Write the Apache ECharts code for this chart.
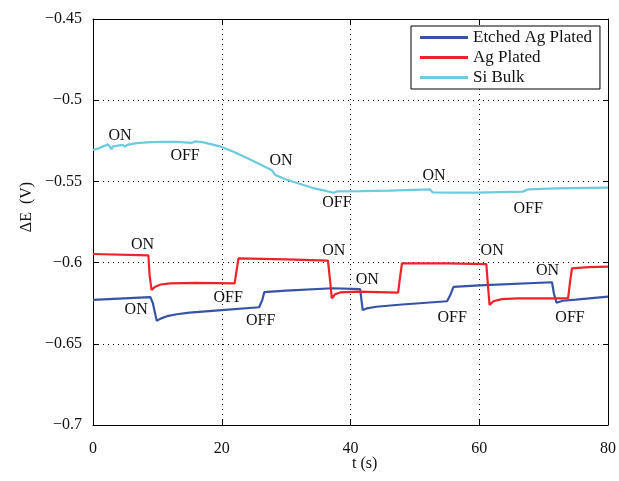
<!DOCTYPE html>
<html>
<head>
<meta charset="utf-8">
<script src="https://cdn.jsdelivr.net/npm/echarts@6/dist/echarts.min.js"></script>
<style>
  html, body { margin: 0; padding: 0; background: #fff; }
  #chart { width: 619px; height: 481px; }
</style>
</head>
<body>
<div id="chart"></div>
<script>
// data: [t (s), dE (V)]
const etched = [
  [0, -0.6230], [4, -0.6222], [8.9, -0.6212], [9.3, -0.6250], [9.9, -0.6358],
  [10.5, -0.6345], [11.5, -0.6330], [13, -0.6318], [15, -0.6308], [20, -0.6293],
  [25.8, -0.6275], [26.3, -0.6230], [26.6, -0.6182], [30, -0.6172], [37.2, -0.6158],
  [41.5, -0.6163], [41.7, -0.6230], [41.9, -0.6292], [42.5, -0.6282], [44, -0.6272],
  [48, -0.6258], [55.0, -0.6238], [55.5, -0.6200], [56.0, -0.6150], [60, -0.6140],
  [71.3, -0.6121], [71.6, -0.6190], [72.0, -0.6247], [73, -0.6235], [75, -0.6228],
  [80, -0.6210]
]
const agPlated = [
  [0, -0.5947], [8.6, -0.5955], [8.8, -0.6080], [9.1, -0.6169], [9.6, -0.6150],
  [10.5, -0.6135], [12, -0.6128], [16, -0.6125], [22.0, -0.6128], [22.3, -0.6050],
  [22.6, -0.5974], [30, -0.5980], [36.5, -0.5988], [36.8, -0.6100], [37.1, -0.6220],
  [37.6, -0.6195], [38.5, -0.6183], [41, -0.6179], [47.4, -0.6185], [47.7, -0.6090],
  [48.0, -0.6004], [55, -0.6005], [61.1, -0.6009], [61.35, -0.6140], [61.6, -0.6261],
  [62.2, -0.6238], [63.5, -0.6225], [66, -0.6220], [73.8, -0.6220], [74.1, -0.6120],
  [74.4, -0.6035], [77, -0.6028], [80, -0.6025]
]
const siBulk = [
  [0, -0.5307], [1, -0.5295], [2.3, -0.5272], [2.9, -0.5302], [3.1, -0.5284],
  [4.6, -0.5275], [4.97, -0.5287], [5.3, -0.5275], [6.8, -0.5264], [9, -0.5258],
  [11, -0.5256], [13, -0.5257], [15.4, -0.5263], [15.8, -0.5254], [17, -0.5258],
  [19.7, -0.5284], [22, -0.5320], [24, -0.5358], [26, -0.5396], [27.8, -0.5432],
  [28.3, -0.5460], [30, -0.5488], [31.7, -0.5510], [34.2, -0.5541], [36, -0.5557],
  [37.3, -0.5570], [37.9, -0.5562], [41.5, -0.5560], [46, -0.5557], [52.3, -0.5549],
  [52.8, -0.5568], [56, -0.5569], [59.6, -0.5569], [66.8, -0.5563], [67.6, -0.5549],
  [72, -0.5543], [80, -0.5538]
]
// ON / OFF annotations: [text, t, dE]
const notes = [
  ['ON', 4.2, -0.5219], ['OFF', 14.3, -0.5344], ['ON', 29.2, -0.5372],
  ['OFF', 37.9, -0.5631], ['ON', 52.97, -0.5467], ['OFF', 67.6, -0.5666],
  ['ON', 7.7, -0.5892], ['ON', 6.7, -0.6288], ['OFF', 21.0, -0.6214],
  ['OFF', 26.05, -0.6358], ['ON', 37.4, -0.5927], ['ON', 42.6, -0.6103],
  ['OFF', 55.8, -0.6337], ['ON', 62.0, -0.5927], ['ON', 70.6, -0.6050],
  ['OFF', 74.1, -0.6337]
]
const seriesNames = ['Etched Ag Plated', 'Ag Plated', 'Si Bulk']
const seriesColors = ['#3753a7', '#ee2229', '#6ccbdf']

const serif = "'Liberation Serif', 'DejaVu Serif', serif"
const textColor = '#111'
const fmtTick = v => String(Number(v.toFixed(2))).replace('-', '\u2212')

const chart = echarts.init(document.getElementById('chart'))

const frameX = {
  type: 'value', min: 0, max: 80, interval: 20,
  axisLine: { show: true, onZero: false, lineStyle: { color: '#000', width: 1 } },
  axisTick: { show: true, inside: true, length: 5, lineStyle: { color: '#000' } }
}
const frameY = {
  type: 'value', min: -0.7, max: -0.45, interval: 0.05,
  axisLine: { show: true, onZero: false, lineStyle: { color: '#000', width: 1 } },
  axisTick: { show: true, inside: true, length: 5, lineStyle: { color: '#000' } }
}

chart.setOption({
  animation: false,
  grid: { left: 93, right: 11, top: 19, bottom: 56 },
  legend: {
    data: seriesNames,
    orient: 'vertical',
    left: 411,
    top: 26,
    padding: [3, 8, 3, 9],
    itemGap: 3,
    itemWidth: 48,
    itemHeight: 3,
    icon: 'rect',
    backgroundColor: '#fff',
    borderColor: '#000',
    borderWidth: 1,
    borderRadius: 0,
    textStyle: { fontFamily: serif, fontSize: 17, lineHeight: 17, color: textColor }
  },
  xAxis: [
    Object.assign({}, frameX, {
      position: 'bottom',
      axisLabel: { margin: 16, fontFamily: serif, fontSize: 16, color: textColor },
      splitLine: { show: true, lineStyle: { color: '#000', type: [1, 4], width: 1 } }
    }),
    Object.assign({}, frameX, {
      position: 'top',
      axisLabel: { show: false },
      splitLine: { show: false }
    })
  ],
  yAxis: [
    Object.assign({}, frameY, {
      position: 'left',
      axisLabel: { margin: 11, fontFamily: serif, fontSize: 16, color: textColor, formatter: fmtTick },
      splitLine: { show: true, lineStyle: { color: '#000', type: [1, 4], width: 1 } }
    }),
    Object.assign({}, frameY, {
      position: 'right',
      axisLabel: { show: false },
      splitLine: { show: false }
    })
  ],
  graphic: [
    {
      type: 'text', left: 352, top: 456, style: {
        text: 't (s)', font: '16px ' + serif, fill: textColor, textAlign: 'center'
      }
    },
    {
      type: 'text', x: 27, y: 207, rotation: Math.PI / 2, style: {
        text: '\u0394E  (V)', font: '16px ' + serif, fill: textColor,
        textAlign: 'center', textVerticalAlign: 'middle'
      }
    }
  ],
  series: [
    {
      name: seriesNames[0], type: 'line', data: etched, showSymbol: false,
      color: seriesColors[0], lineStyle: { width: 2.2 }, z: 3
    },
    {
      name: seriesNames[1], type: 'line', data: agPlated, showSymbol: false,
      color: seriesColors[1], lineStyle: { width: 2.2 }, z: 3
    },
    {
      name: seriesNames[2], type: 'line', data: siBulk, showSymbol: false,
      color: seriesColors[2], lineStyle: { width: 2.2 }, z: 3
    },
    {
      type: 'scatter', symbolSize: 0, silent: true, z: 4,
      itemStyle: { color: '#000', opacity: 1 },
      data: notes.map(n => ({ value: [n[1], n[2]], name: n[0] })),
      label: {
        show: true, position: 'inside', formatter: p => p.name,
        fontFamily: serif, fontSize: 16, color: textColor,
        textBorderWidth: 0, textBorderColor: 'transparent'
      }
    }
  ]
})
</script>
</body>
</html>
